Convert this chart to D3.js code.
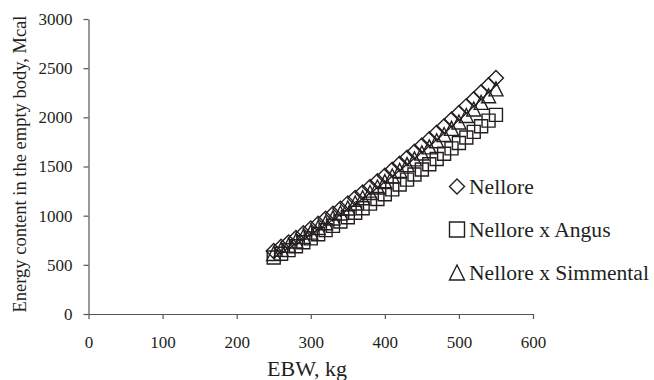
<!DOCTYPE html>
<html>
<head>
<meta charset="utf-8">
<script src="https://cdn.jsdelivr.net/npm/d3@7"></script>
<style>
  body { margin: 0; background: #fff; }
  svg text { font-family: "Liberation Serif", "Times New Roman", Tinos, Times, "DejaVu Serif", serif; }
</style>
</head>
<body>
<script>
// empty body weight, kg
var ebw = [250, 260, 270, 280, 290, 300, 310, 320, 330, 340, 350,
           360, 370, 380, 390, 400, 410, 420, 430, 440, 450,
           460, 470, 480, 490, 500, 510, 520, 530, 540, 550];

// energy content in the empty body, Mcal
var nellore = [640, 683, 728, 774, 821, 869, 918, 968, 1019, 1071, 1125,
               1179, 1235, 1291, 1349, 1407, 1466, 1527, 1588, 1651, 1714,
               1778, 1844, 1910, 1977, 2045, 2114, 2184, 2255, 2327, 2399];
var nelAngus = [575, 612, 650, 689, 729, 769, 811, 853, 896, 940, 984,
                1029, 1075, 1122, 1170, 1218, 1267, 1317, 1367, 1418, 1470,
                1523, 1576, 1630, 1684, 1739, 1795, 1852, 1909, 1967, 2025];
var nelSimmental = [615, 657, 699, 743, 788, 833, 880, 928, 977, 1027, 1078,
                    1129, 1182, 1236, 1291, 1346, 1403, 1460, 1519, 1578, 1638,
                    1700, 1762, 1825, 1888, 1953, 2019, 2085, 2152, 2220, 2289];

var seriesNames = ["Nellore", "Nellore x Angus", "Nellore x Simmental"];
var xTicks = [0, 100, 200, 300, 400, 500, 600];
var yTicks = [0, 500, 1000, 1500, 2000, 2500, 3000];

var ink = "#231f20";

// marker path for each series (centered on 0,0)
const markerPath = function(kind, s){
    if (kind == "diamond"){
        return "M0," + (-s/2) + "L" + (s/2) + ",0L0," + (s/2) + "L" + (-s/2) + ",0Z";
    }
    if (kind == "square"){
        return "M" + (-s/2) + "," + (-s/2) + "h" + s + "v" + s + "h" + (-s) + "Z";
    }
    // triangle
    return "M0," + (-s/2) + "L" + (s/2) + "," + (s/2) + "L" + (-s/2) + "," + (s/2) + "Z";
};

var series = [
    {name: seriesNames[0], values: nellore, kind: "diamond", size: 15},
    {name: seriesNames[1], values: nelAngus, kind: "square", size: 13},
    {name: seriesNames[2], values: nelSimmental, kind: "triangle", size: 14}
];

var width = 654, height = 380;
var svg = d3.select("body")
            .append("svg")
            .attr("width", width)
            .attr("height", height);

var xScale = d3.scaleLinear().domain([0, 600]).range([88.5, 533]);
var yScale = d3.scaleLinear().domain([0, 3000]).range([314, 19]);

// y axis
svg.append("g")
   .attr("transform", "translate(" + xScale(0) + ",0)")
   .call(d3.axisLeft(yScale).tickValues(yTicks).tickFormat(d3.format("d"))
           .tickSize(5).tickSizeOuter(0).tickPadding(11));
// x axis
svg.append("g")
   .attr("transform", "translate(0," + yScale(0) + ")")
   .call(d3.axisBottom(xScale).tickValues(xTicks).tickFormat(d3.format("d"))
           .tickSize(5).tickSizeOuter(0).tickPadding(17));

// axis g sets its own font; drop it so the css applies
svg.selectAll("g").attr("font-family", null).attr("font-size", null);
svg.selectAll(".tick text")
   .style("font-size", "17px")
   .attr("fill", ink);
svg.selectAll(".domain, .tick line")
   .attr("stroke", "#555")
   .attr("stroke-width", 1.2);

// markers
for (let s of series){
    svg.append("g")
       .selectAll("path")
       .data(s.values)
       .enter()
       .append("path")
       .attr("transform", function(d, i){
           return "translate(" + xScale(ebw[i]) + "," + yScale(d) + ")";
       })
       .attr("d", markerPath(s.kind, s.size))
       .attr("fill", "none")
       .attr("stroke", ink)
       .attr("stroke-width", 1.4);
}

// legend
var legend = svg.append("g");
series.forEach(function(s, i){
    var ly = 186.5 + i * 43;
    legend.append("path")
          .attr("transform", "translate(457," + ly + ")")
          .attr("d", markerPath(s.kind, 15))
          .attr("fill", "none")
          .attr("stroke", ink)
          .attr("stroke-width", 1.4);
    legend.append("text")
          .attr("x", 469)
          .attr("y", ly + 7)
          .style("font-size", "21.6px")
          .attr("fill", ink)
          .text(s.name);
});

// axis titles
svg.append("text")
   .attr("transform", "rotate(-90)")
   .attr("x", -164)
   .attr("y", 26)
   .style("text-anchor", "middle")
   .style("font-size", "18.5px")
   .attr("fill", ink)
   .text("Energy content in the empty body, Mcal");

svg.append("text")
   .attr("x", 307)
   .attr("y", 376)
   .style("text-anchor", "middle")
   .style("font-size", "22px")
   .attr("fill", ink)
   .text("EBW, kg");
</script>
</body>
</html>
